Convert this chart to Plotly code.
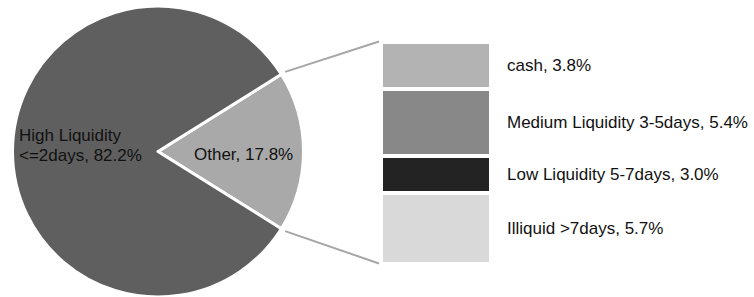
import math
import plotly.graph_objects as go

W, H = 754, 297
FONT = "Liberation Sans, Arial, sans-serif"

# ---- data ----
pie_labels = ["Other", "High Liquidity <=2days"]
pie_values = [17.8, 82.2]
pie_colors = ["#a9a9a9", "#5f5f5f"]

bar_labels = ["cash", "Medium Liquidity 3-5days", "Low Liquidity 5-7days", "Illiquid >7days"]
bar_values = [3.8, 5.4, 3.0, 5.7]
bar_colors = ["#b3b3b3", "#888888", "#232323", "#d9d9d9"]


def esc(s):
    return s.replace("<", "&lt;").replace(">", "&gt;")


# ---- pie geometry (pixels) ----
cx, r = 158.0, 145.5
cy = H - r
dom_x = [(cx - r) / W, (cx + r) / W]
dom_y = [0, 2 * r / H]
other_share = pie_values[0] / sum(pie_values)
half = 180.0 * other_share
rotation = 90 - half

# ---- bar axis mapping ----
total = sum(bar_values)
bar_top_px, bar_bot_px = 41.5, 263.5
s = (bar_bot_px - bar_top_px) / total
y_range = [-(H - bar_bot_px) / s, total + bar_top_px / s]
bar_cx, bar_w = 436.0, 110.0
bar_left = bar_cx - bar_w / 2


def py_to_y(py):
    return (bar_bot_px - py) / s


fig = go.Figure()
fig.add_trace(go.Pie(
    labels=pie_labels, values=pie_values, sort=False, direction="clockwise",
    rotation=rotation,
    marker=dict(colors=pie_colors, line=dict(color="white", width=3)),
    textinfo="none", hoverinfo="label+percent",
    domain=dict(x=dom_x, y=dom_y), showlegend=False,
))

# stacked bar, bottom segment first
for lab, val, col in reversed(list(zip(bar_labels, bar_values, bar_colors))):
    fig.add_trace(go.Bar(
        x=[bar_cx], y=[val], width=[bar_w], name=lab,
        marker=dict(color=col, line=dict(color="white", width=4)),
        showlegend=False, hoverinfo="name+y",
    ))

# connector lines
rr = r + 4.5
a = math.radians(half)
for sign, yend in [(1, total), (-1, 0)]:
    px = cx + rr * math.cos(a)
    py = cy - sign * rr * math.sin(a)
    fig.add_shape(type="line", xref="x", yref="y",
                  x0=px, y0=py_to_y(py), x1=bar_left - 2, y1=yend,
                  line=dict(color="#a6a6a6", width=2))

annotations = []
# bar labels
cum = total
for lab, val in zip(bar_labels, bar_values):
    mid = cum - val / 2
    cum -= val
    annotations.append(dict(x=505, y=mid, xref="x", yref="y", xanchor="left",
                            yanchor="middle", showarrow=False,
                            text=f"{esc(lab)}, {val:.1f}%"))
# pie labels (High Liquidity label on two lines)
hi_line1, hi_line2 = pie_labels[1].split(" <=")
hi_lines = [hi_line1, esc("<=" + hi_line2) + f", {pie_values[1]:.1f}%"]
for txt, ypx in zip(hi_lines, [135, 155]):
    annotations.append(dict(x=17 / W, y=1 - ypx / H, xref="paper", yref="paper",
                            xanchor="left", yanchor="middle", showarrow=False,
                            align="left", text=txt))
annotations.append(dict(x=192 / W, y=1 - 154 / H, xref="paper", yref="paper",
                        xanchor="left", yanchor="middle", showarrow=False,
                        text=f"{esc(pie_labels[0])}, {pie_values[0]:.1f}%"))

fig.update_layout(
    width=W, height=H, margin=dict(l=0, r=0, t=0, b=0),
    paper_bgcolor="white", plot_bgcolor="rgba(0,0,0,0)",
    barmode="stack", bargap=0,
    font=dict(family=FONT, size=17, color="#111111"),
    xaxis=dict(range=[0, W], visible=False, fixedrange=True),
    yaxis=dict(range=y_range, visible=False, fixedrange=True),
    annotations=annotations,
)

fig.write_html("out.html", config={"displayModeBar": False},
               post_script="document.body.style.margin='0px';document.body.style.overflow='hidden';")
